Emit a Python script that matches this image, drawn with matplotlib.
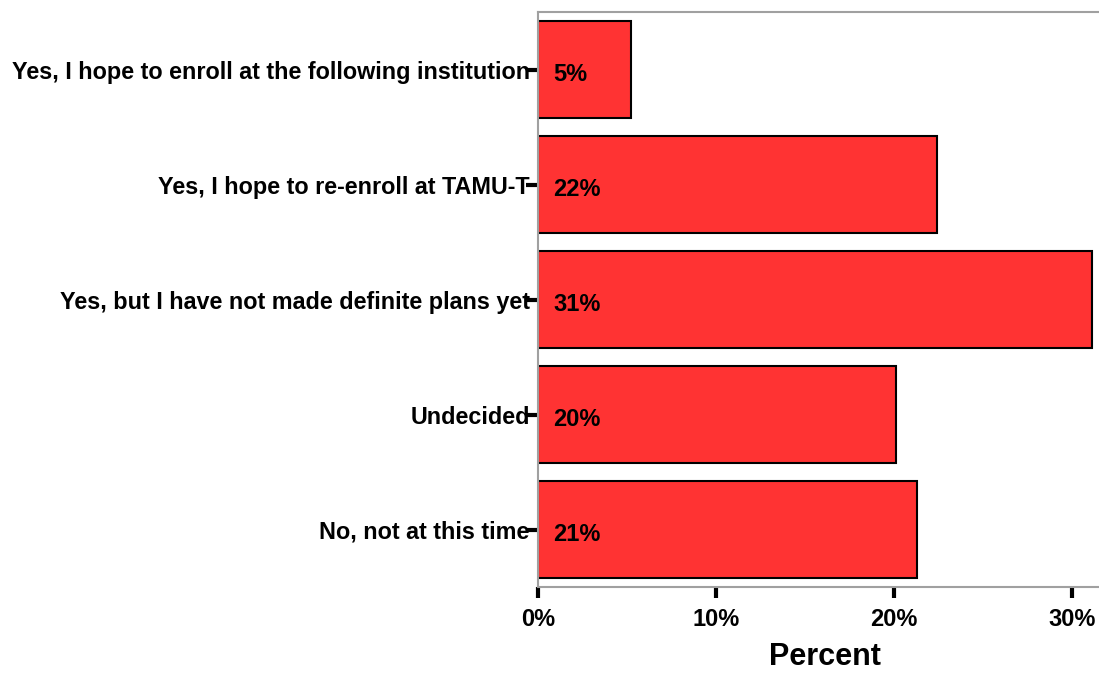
import numpy as np
import matplotlib
matplotlib.use('Agg')
import matplotlib.pyplot as plt

# Data
categories = ['Yes, I hope to enroll at the following institution',
              'Yes, I hope to re-enroll at TAMU-T',
              'Yes, but I have not made definite plans yet',
              'Undecided',
              'No, not at this time']
percents = [5.2, 22.4, 31.1, 20.1, 21.3]
value_labels = ['5%', '22%', '31%', '20%', '21%']
x_ticks = [0, 10, 20, 30]
x_tick_labels = ['0%', '10%', '20%', '30%']

plt.rcParams['font.family'] = ['Liberation Sans', 'DejaVu Sans']
plt.rcParams['font.weight'] = 'bold'

fig = plt.figure(figsize=(10.99, 6.74), dpi=100)
ax = fig.add_axes([0.4895, 0.129, 0.522, 0.853])

for side in ['top', 'left', 'bottom']:
    ax.spines[side].set_color('#a0a0a0')
    ax.spines[side].set_linewidth(1.5)
ax.spines['right'].set_visible(False)

y = np.arange(len(categories))
ax.barh(y, percents, height=0.85, color='#ff3333', edgecolor='black', linewidth=1.5, zorder=2)

# value labels sit a little below the bar centre, as in the original
for yi, lab in zip(y, value_labels):
    ax.text(0.85, yi + 0.04, lab, ha='left', va='center', fontsize=17, fontweight='bold', zorder=3)

ax.set_ylim(-0.5, len(categories) - 0.5)
ax.invert_yaxis()
ax.set_xlim(0, 32.2)

ax.set_yticks(y)
ax.set_yticklabels(categories)
ax.set_xticks(x_ticks)
ax.set_xticklabels(x_tick_labels)
ax.tick_params(axis='y', length=9, width=3, pad=-3, color='black', labelsize=16.8)
ax.tick_params(axis='x', length=8, width=3, pad=7, color='black', labelsize=17)

ax.set_xlabel('Percent', fontsize=22, fontweight='bold', labelpad=8)

plt.savefig('out.png', dpi=100)
